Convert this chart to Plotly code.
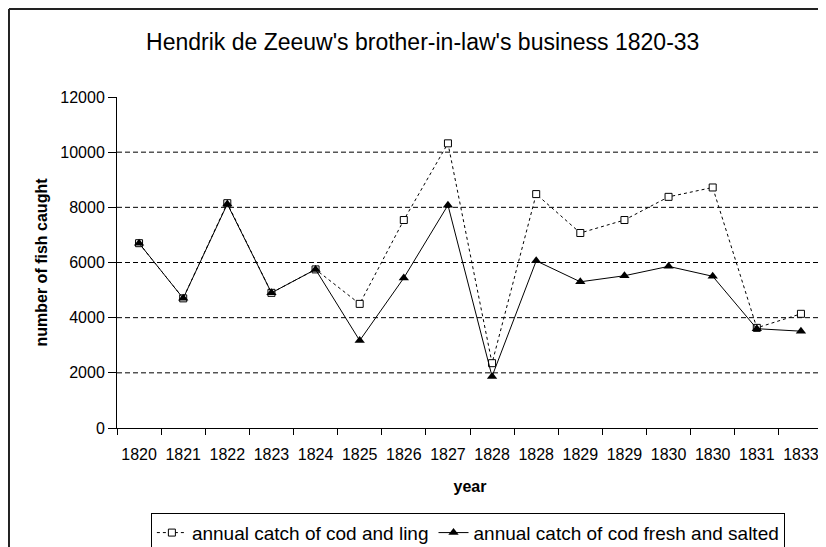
import plotly.graph_objects as go

year_labels = ["1820", "1821", "1822", "1823", "1824", "1825", "1826", "1827",
               "1828", "1828", "1829", "1829", "1830", "1830", "1831", "1833"]
cod_and_ling = [6700, 4700, 8150, 4900, 5750, 4500, 7540, 10320,
                2350, 8480, 7070, 7540, 8380, 8720, 3630, 4140]
cod_fresh_salted = [6700, 4700, 8120, 4900, 5750, 3170, 5440, 8080,
                    1870, 6060, 5300, 5520, 5860, 5500, 3600, 3510]
y_ticks = [0, 2000, 4000, 6000, 8000, 10000, 12000]

# years repeat, so plot against position and label the ticks
pos = list(range(len(year_labels)))
font = "Arial, Liberation Sans, sans-serif"

fig = go.Figure()

fig.add_trace(go.Scatter(
    x=pos, y=cod_and_ling, mode="lines+markers",
    name="annual catch of cod and ling",
    line=dict(color="black", width=1, dash="3px,3px"),
    marker=dict(symbol="square", size=7, color="white",
                line=dict(color="black", width=1))
))

fig.add_trace(go.Scatter(
    x=pos, y=cod_fresh_salted, mode="lines+markers",
    name="annual catch of cod fresh and salted",
    line=dict(color="black", width=1),
    marker=dict(symbol="triangle-up", size=9, color="black")
))

# dashed gridlines, none at the top edge
for v in y_ticks[1:-1]:
    fig.add_hline(y=v, line=dict(color="black", width=1, dash="5px,3px"), layer="below")

# chart frame: only the top and left edges are in view
frame = dict(color="#222", width=2)
fig.add_shape(type="line", xref="paper", yref="paper",
              x0=-0.153, x1=1.2, y0=1.266, y1=1.266, line=frame, layer="below")
fig.add_shape(type="line", xref="paper", yref="paper",
              x0=-0.153, x1=-0.153, y0=-0.8, y1=1.266, line=frame, layer="below")

fig.update_layout(
    width=818, height=539,
    margin=dict(l=109, r=3, t=89, b=119, autoexpand=False),
    paper_bgcolor="white", plot_bgcolor="white",
    font=dict(family=font, color="black", size=16),
    title=dict(text="Hendrik de Zeeuw's brother-in-law's business 1820-33",
               x=0.507, xanchor="center", y=0.937, yanchor="middle",
               font=dict(size=23, color="black")),
    showlegend=True,
    legend=dict(orientation="h", x=0.497, xanchor="center", y=-0.256, yanchor="top",
                bordercolor="black", borderwidth=1, bgcolor="white",
                font=dict(size=19)),
)

fig.update_xaxes(
    range=[-0.5, len(year_labels) - 0.5],
    tickvals=pos, ticktext=year_labels, ticks="",
    ticklabelstandoff=12,
    tickfont=dict(size=16),
    showline=True, linecolor="black", linewidth=1,
    showgrid=False, zeroline=False,
    minor=dict(tickvals=[p - 0.5 for p in pos] + [len(pos) - 0.5],
               ticks="outside", ticklen=6, tickcolor="black", showgrid=False),
    title=dict(text="<b>year</b>", font=dict(size=16), standoff=18)
)

fig.update_yaxes(
    range=[0, 12000], tickvals=y_ticks, tickformat="d",
    ticks="outside", ticklen=8,
    tickcolor="black", tickfont=dict(size=16),
    showline=True, linecolor="black", linewidth=1,
    showgrid=False, zeroline=False,
    title=dict(text="<b>number of fish caught</b>", font=dict(size=16), standoff=8)
)

fig.write_html("out.html")
